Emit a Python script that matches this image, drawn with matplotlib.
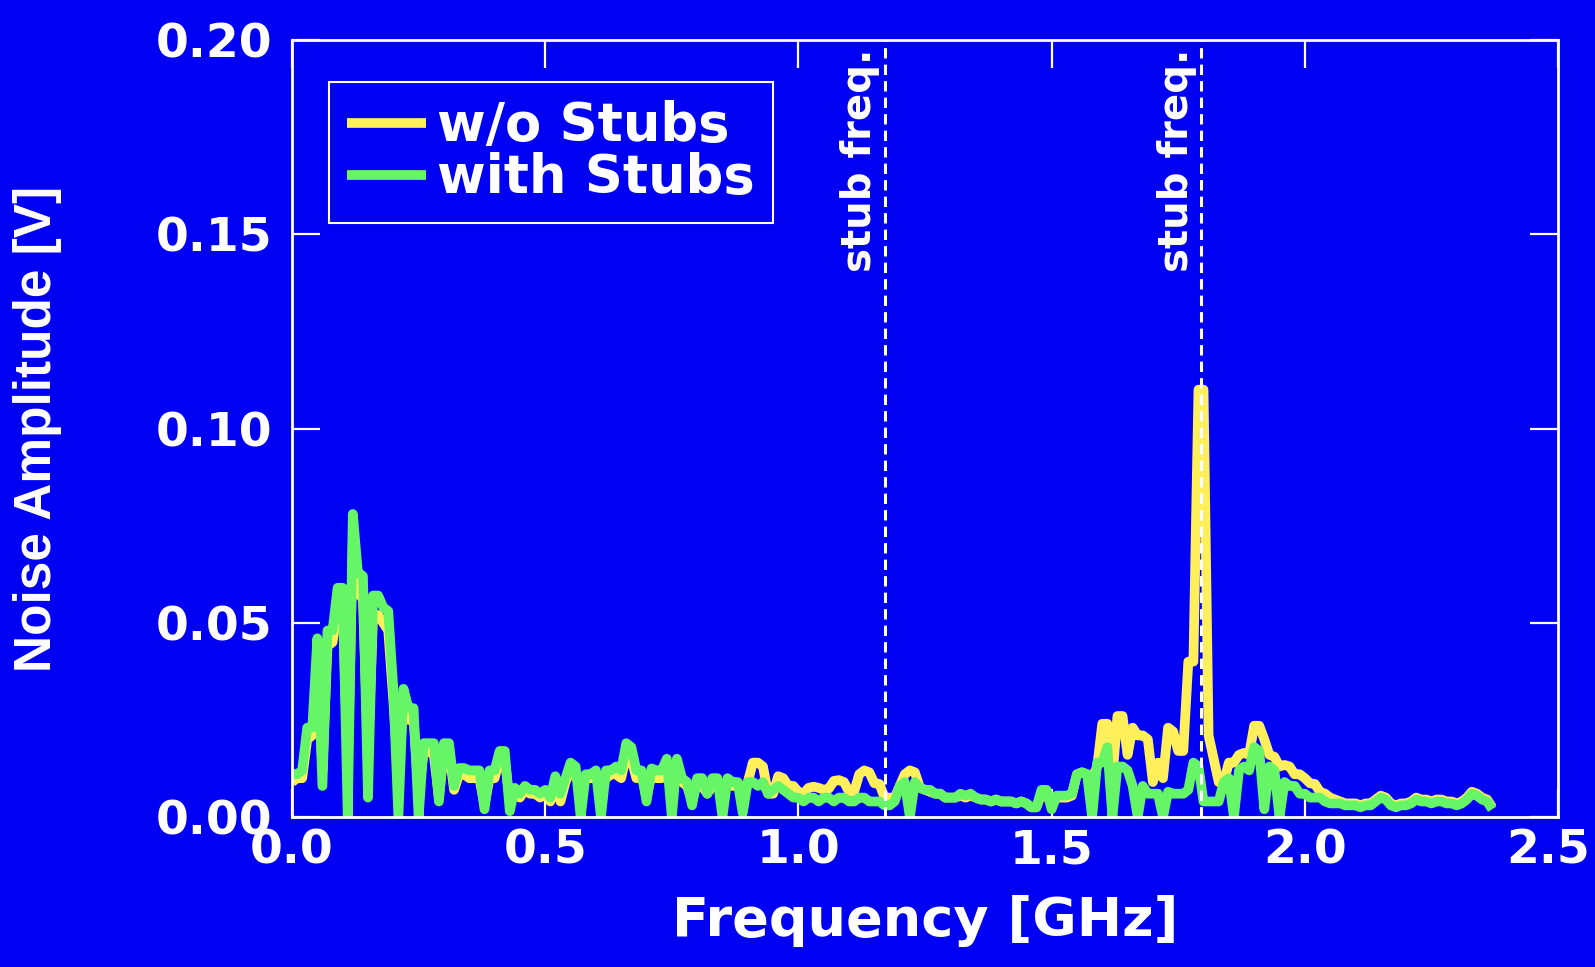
import numpy as np
import matplotlib
matplotlib.use("Agg")
import matplotlib.pyplot as plt
from matplotlib.transforms import ScaledTranslation

# --- Data: noise spectrum sampled every 0.01 GHz starting at 0 GHz ---
freq_step_ghz = 0.01

no_stubs = [
    0.009, 0.010, 0.010, 0.020, 0.021, 0.040, 0.012, 0.044, 0.045, 0.055,
    0.055, 0.012, 0.070, 0.058, 0.056, 0.016, 0.052, 0.052, 0.050, 0.048,
    0.030, 0.010, 0.030, 0.025, 0.025, 0.006, 0.017, 0.017, 0.016, 0.005,
    0.017, 0.017, 0.007, 0.011, 0.011, 0.010, 0.010, 0.010, 0.003, 0.010,
    0.010, 0.015, 0.015, 0.004, 0.007, 0.005, 0.007, 0.006, 0.006, 0.005,
    0.006, 0.004, 0.009, 0.004, 0.009, 0.012, 0.011, 0.007, 0.010, 0.010,
    0.010, 0.007, 0.010, 0.011, 0.011, 0.010, 0.016, 0.015, 0.010, 0.011,
    0.005, 0.011, 0.010, 0.010, 0.013, 0.008, 0.013, 0.009, 0.008, 0.004,
    0.009, 0.008, 0.006, 0.008, 0.009, 0.007, 0.009, 0.008, 0.008, 0.007,
    0.009, 0.014, 0.014, 0.013, 0.006, 0.006, 0.0105, 0.010, 0.008, 0.008,
    0.0065, 0.006, 0.0075, 0.0078, 0.0075, 0.007, 0.0073, 0.0093, 0.0095, 0.009,
    0.0065, 0.0065, 0.011, 0.012, 0.0115, 0.0087, 0.0085, 0.005, 0.005, 0.005,
    0.008, 0.011, 0.012, 0.0115, 0.0075, 0.007, 0.0065, 0.006, 0.006, 0.005,
    0.005, 0.005, 0.0055, 0.005, 0.0055, 0.005, 0.0045, 0.0045, 0.004, 0.0045,
    0.004, 0.004, 0.004, 0.0035, 0.004, 0.0035, 0.0025, 0.0025, 0.006, 0.006,
    0.003, 0.005, 0.005, 0.005, 0.0055, 0.011, 0.0115, 0.011, 0.010, 0.013,
    0.024, 0.024, 0.010, 0.026, 0.026, 0.016, 0.023, 0.021, 0.021, 0.020,
    0.009, 0.014, 0.010, 0.023, 0.022, 0.017, 0.017, 0.040, 0.040, 0.110,
    0.110, 0.021, 0.015, 0.009, 0.009, 0.014, 0.014, 0.016, 0.0165, 0.016,
    0.0235, 0.0235, 0.020, 0.016, 0.0155, 0.013, 0.0134, 0.013, 0.011, 0.011,
    0.010, 0.0087, 0.0085, 0.0065, 0.006, 0.005, 0.0045, 0.004, 0.0035, 0.0035,
    0.0035, 0.003, 0.0035, 0.0035, 0.0045, 0.0055, 0.005, 0.0035, 0.003, 0.0035,
    0.0035, 0.004, 0.005, 0.0045, 0.0045, 0.004, 0.0045, 0.0045, 0.004, 0.004,
    0.0035, 0.004, 0.005, 0.0065, 0.006, 0.005, 0.0045, 0.0025,
]

with_stubs = [
    0.011, 0.011, 0.012, 0.023, 0.023, 0.046, 0.008, 0.048, 0.048, 0.059,
    0.059, 0.000, 0.078, 0.063, 0.062, 0.005, 0.057, 0.057, 0.054, 0.053,
    0.033, 0.000, 0.033, 0.028, 0.028, 0.000, 0.019, 0.019, 0.019, 0.004,
    0.019, 0.019, 0.008, 0.0126, 0.0126, 0.012, 0.012, 0.012, 0.002, 0.012,
    0.012, 0.017, 0.017, 0.0015, 0.0075, 0.006, 0.008, 0.007, 0.007, 0.006,
    0.007, 0.005, 0.0105, 0.006, 0.010, 0.014, 0.013, 0.000, 0.011, 0.011,
    0.012, 0.000, 0.012, 0.012, 0.013, 0.012, 0.019, 0.018, 0.012, 0.012,
    0.004, 0.0125, 0.012, 0.012, 0.015, 0.000, 0.015, 0.010, 0.009, 0.003,
    0.010, 0.010, 0.006, 0.010, 0.010, 0.000, 0.010, 0.009, 0.009, 0.001,
    0.009, 0.009, 0.008, 0.009, 0.006, 0.007, 0.008, 0.007, 0.006, 0.005,
    0.005, 0.004, 0.005, 0.005, 0.004, 0.005, 0.005, 0.004, 0.005, 0.005,
    0.004, 0.004, 0.005, 0.005, 0.004, 0.004, 0.004, 0.003, 0.003, 0.004,
    0.008, 0.009, 0.000, 0.009, 0.0075, 0.007, 0.007, 0.006, 0.006, 0.005,
    0.005, 0.005, 0.006, 0.0055, 0.006, 0.005, 0.0045, 0.0045, 0.004, 0.0045,
    0.004, 0.004, 0.004, 0.0035, 0.004, 0.0035, 0.0025, 0.0025, 0.007, 0.007,
    0.002, 0.0055, 0.0055, 0.0055, 0.006, 0.011, 0.0115, 0.011, 0.000, 0.014,
    0.014, 0.018, 0.000, 0.013, 0.013, 0.012, 0.008, 0.000, 0.008, 0.006,
    0.006, 0.006, 0.000, 0.0065, 0.006, 0.006, 0.006, 0.007, 0.014, 0.013,
    0.004, 0.004, 0.004, 0.004, 0.009, 0.010, 0.000, 0.012, 0.013, 0.012,
    0.018, 0.017, 0.002, 0.013, 0.012, 0.000, 0.009, 0.008, 0.008, 0.006,
    0.006, 0.005, 0.005, 0.005, 0.004, 0.0035, 0.0035, 0.0035, 0.003, 0.003,
    0.003, 0.0025, 0.003, 0.003, 0.004, 0.005, 0.0045, 0.003, 0.0025, 0.003,
    0.003, 0.0035, 0.0045, 0.004, 0.004, 0.0035, 0.004, 0.004, 0.0035, 0.0035,
    0.003, 0.0035, 0.0045, 0.006, 0.0055, 0.0045, 0.004, 0.002,
]

stub_freqs = [1.17, 1.795]
x_ticks = [0.0, 0.5, 1.0, 1.5, 2.0, 2.5]
y_ticks = [0.00, 0.05, 0.10, 0.15, 0.20]

# --- Style ---
BG = "#0000f2"
YELLOW = "#ffef5a"
GREEN = "#66f566"
WHITE = "white"
FONT = "DejaVu Sans"

freq = np.round(np.arange(len(with_stubs)) * freq_step_ghz, 2)

fig = plt.figure(figsize=(15.95, 9.67), dpi=100, facecolor=BG)
ax = fig.add_axes([0.1831, 0.1551, 0.7937, 0.8035], facecolor=BG)

ax.plot(freq, no_stubs, color=YELLOW, lw=7, label="w/o Stubs", zorder=2,
        solid_joinstyle="round", solid_capstyle="butt")
ax.plot(freq, with_stubs, color=GREEN, lw=7, label="with Stubs", zorder=3,
        solid_joinstyle="round", solid_capstyle="butt")

# stub frequency markers
for fx in stub_freqs:
    ax.axvline(fx, color=WHITE, lw=2.2, ls=(0, (3.4, 2.0)), zorder=4)
    ax.annotate("stub freq.", xy=(fx, 0.2), xytext=(-3, -6),
                textcoords="offset points", rotation=90, ha="right", va="top",
                color=WHITE, fontsize=29, fontweight="bold", family=FONT)

ax.set_xlim(0, 2.5)
ax.set_ylim(0, 0.2)
ax.set_xticks(x_ticks)
ax.set_yticks(y_ticks)
ax.set_xticklabels([f"{t:.1f}" for t in x_ticks])
ax.set_yticklabels([f"{t:.2f}" for t in y_ticks])

for s in ax.spines.values():
    s.set_color(WHITE)
    s.set_linewidth(2)
    s.set_zorder(5)

ax.tick_params(which="major", direction="in", length=20, width=1.6,
               color=WHITE, labelcolor=WHITE, top=True, right=True)
ax.tick_params(axis="y", pad=14)
ax.tick_params(axis="x", pad=8)
for lab in ax.get_xticklabels() + ax.get_yticklabels():
    lab.set_fontsize(34)
    lab.set_fontweight("bold")
    lab.set_family(FONT)
# keep the last x label inside the canvas
last = ax.get_xticklabels()[-1]
last.set_transform(last.get_transform() + ScaledTranslation(-0.1, 0, fig.dpi_scale_trans))

ax.set_xlabel("Frequency [GHz]", color=WHITE, fontsize=39,
              fontweight="bold", family=FONT, labelpad=16)
ax.set_ylabel("Noise Amplitude [V]", color=WHITE, fontsize=37,
              fontweight="bold", family="Liberation Sans")
ax.yaxis.set_label_coords(-0.182, 0.5)

leg = ax.legend(loc="upper left", bbox_to_anchor=(0.029, 0.946),
                borderaxespad=0, frameon=True, fancybox=False,
                facecolor=BG, edgecolor=WHITE, framealpha=1,
                prop={"family": FONT, "weight": "bold", "size": 38},
                handlelength=1.5, handletextpad=0.2, labelspacing=0.0,
                borderpad=0.35)
leg.get_frame().set_linewidth(1.5)
for t in leg.get_texts():
    t.set_color(WHITE)
for h in leg.get_lines():
    h.set_linewidth(7)

fig.savefig("out.png", dpi=100, facecolor=BG)
